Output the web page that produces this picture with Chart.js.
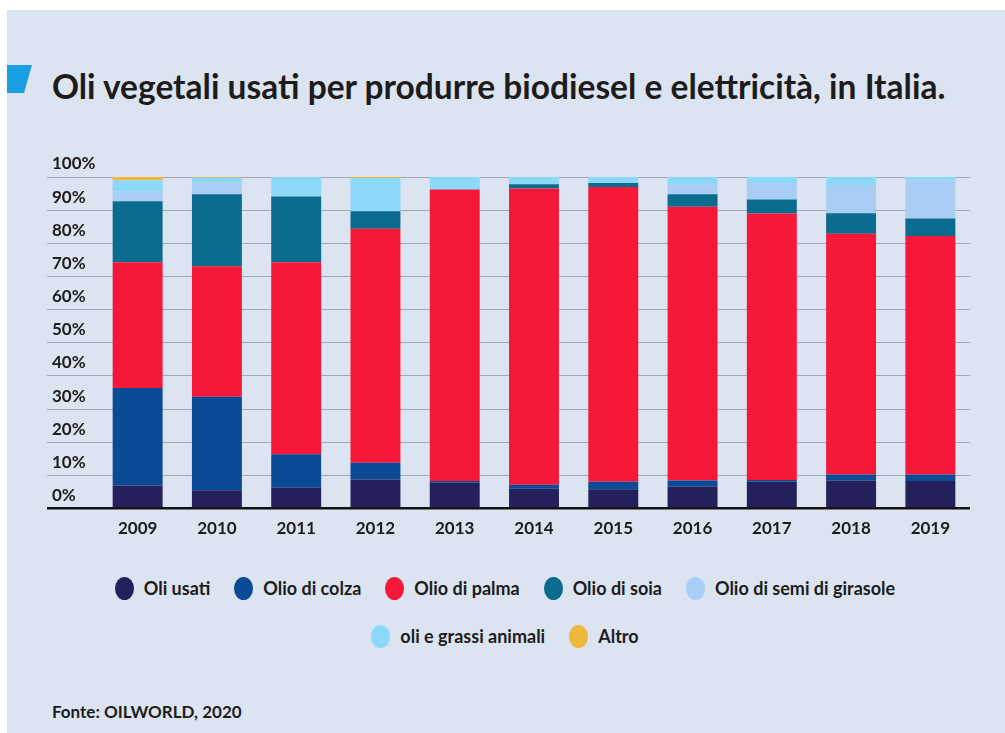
<!DOCTYPE html>
<html lang="it">
<head>
<meta charset="utf-8">
<title>Oli vegetali usati per produrre biodiesel e elettricità, in Italia</title>
<script src="https://cdn.jsdelivr.net/npm/chart.js@4.4.1/dist/chart.umd.min.js"></script>
<style>
    html, body { margin: 0; padding: 0; background: #fff; }
    body { width: 1005px; height: 733px; position: relative; overflow: hidden; font-family: Lato, 'Noto Sans', sans-serif; color: #1c1c1c; }
    .panel { position: absolute; left: 7px; top: 10px; right: 0; bottom: 0; background: #dce3f1; }
    .flag { position: absolute; left: 7px; top: 65px; width: 25px; height: 28px; background: #1aa0e2; clip-path: polygon(0 0, 100% 0, 68% 100%, 0 100%); }
    h1 { position: absolute; left: 52px; top: 66px; margin: 0; font-size: 33.5px; font-weight: 700; line-height: 40px; white-space: nowrap; }
    #chart-wrap { position: absolute; left: 0; top: 0; width: 1005px; height: 560px; }
    #legend { position: absolute; left: 55px; top: 576px; width: 900px; display: flex; flex-wrap: wrap; justify-content: center; row-gap: 24px; column-gap: 24px; }
    .legend-item { display: flex; align-items: center; font-size: 18px; font-weight: 700; height: 24px; }
    .legend-dot { width: 19px; height: 23px; border-radius: 50%; margin-right: 10px; }
    .source { position: absolute; left: 52px; top: 701px; font-size: 17px; font-weight: 700; }
</style>
</head>
<body>
<div class="panel"></div>
<div class="flag"></div>
<h1>Oli vegetali usati per produrre biodiesel e elettricità, in Italia.</h1>
<div id="chart-wrap"><canvas id="oli-chart"></canvas></div>
<div id="legend"></div>
<div class="source">Fonte: OILWORLD, 2020</div>

<script>
// quote percentuali (stima)
const anni = ['2009', '2010', '2011', '2012', '2013', '2014', '2015', '2016', '2017', '2018', '2019'];
const oliUsati = [7.0, 5.5, 6.3, 8.8, 7.8, 6.0, 5.8, 6.7, 8.2, 8.5, 8.3];
const olioColza = [29.4, 28.2, 10.1, 5.0, 0.5, 1.2, 2.3, 1.8, 0.4, 1.8, 2.0];
const olioPalma = [37.9, 39.4, 57.9, 70.6, 87.9, 89.3, 88.9, 82.5, 80.4, 72.6, 71.9];
const olioSoia = [18.4, 21.7, 19.8, 5.3, 0, 1.3, 1.2, 3.8, 4.2, 6.2, 5.3];
const olioGirasole = [2.9, 3.5, 0, 0, 0, 0, 0, 3.0, 5.0, 8.5, 11.5];
const grassiAnimali = [3.4, 1.5, 5.9, 10.0, 3.8, 2.2, 1.8, 2.2, 1.8, 2.4, 1.0];
const altro = [1.0, 0.2, 0, 0.3, 0, 0, 0, 0, 0, 0, 0];
const yTicks = [0, 10, 20, 30, 40, 50, 60, 70, 80, 90, 100];

const serie = [
    { label: 'Oli usati', data: oliUsati, color: '#24205c' },
    { label: 'Olio di colza', data: olioColza, color: '#0b4a94' },
    { label: 'Olio di palma', data: olioPalma, color: '#f51838' },
    { label: 'Olio di soia', data: olioSoia, color: '#0a6b8f' },
    { label: 'Olio di semi di girasole', data: olioGirasole, color: '#a9cef6' },
    { label: 'oli e grassi animali', data: grassiAnimali, color: '#8cd8f8' },
    { label: 'Altro', data: altro, color: '#f0b83a' }
];

const tickFont = { family: 'Lato, "Noto Sans", sans-serif', size: 17, weight: 'bold' };

const chart = new Chart(document.getElementById('oli-chart'), {
    type: 'bar',
    data: {
        labels: anni,
        datasets: serie.map(s => ({
            label: s.label,
            data: s.data,
            backgroundColor: s.color,
            borderWidth: 0,
            barPercentage: 0.63,
            categoryPercentage: 1
        }))
    },
    options: {
        responsive: true,
        maintainAspectRatio: false,
        animation: false,
        layout: {
            padding: { left: 52, right: 35, top: 177, bottom: 11 }
        },
        plugins: {
            legend: { display: false },
            tooltip: { enabled: false }
        },
        scales: {
            x: {
                stacked: true,
                grid: { display: false, drawTicks: false },
                border: { display: false },
                ticks: { color: '#1c1c1c', font: tickFont, padding: 10 }
            },
            y: {
                stacked: true,
                min: 0,
                max: 100,
                afterFit: scale => { scale.width = 46; },
                afterBuildTicks: scale => { scale.ticks = yTicks.map(v => ({ value: v })); },
                border: { display: false },
                grid: {
                    color: ctx => ctx.tick && ctx.tick.value === 0 ? '#111' : '#a3a7b4',
                    lineWidth: ctx => ctx.tick && ctx.tick.value === 0 ? 2.5 : 1,
                    drawTicks: true,
                    tickLength: 51
                },
                ticks: {
                    color: '#1c1c1c',
                    font: tickFont,
                    crossAlign: 'far',
                    padding: 0,
                    labelOffset: -13,
                    callback: v => v + '%'
                }
            }
        }
    }
});

// legenda in HTML, due righe come nell'originale
const legend = document.getElementById('legend');
chart.data.datasets.forEach(ds => {
    const item = document.createElement('div');
    item.className = 'legend-item';
    item.innerHTML = `<span class="legend-dot" style="background:${ds.backgroundColor}"></span>${ds.label}`;
    legend.appendChild(item);
});
</script>
</body>
</html>
